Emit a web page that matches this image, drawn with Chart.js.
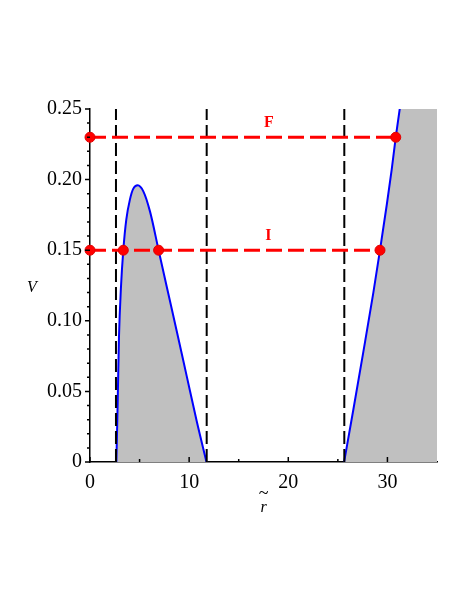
<!DOCTYPE html>
<html>
<head>
<meta charset="utf-8">
<script src="https://cdn.jsdelivr.net/npm/chart.js@4/dist/chart.umd.min.js"></script>
<style>
html,body{margin:0;padding:0;background:#fff;}
#wrap{width:472px;height:611px;position:relative;}
</style>
</head>
<body>
<div id="wrap"><canvas id="c" width="472" height="611"></canvas></div>
<script>
// ---- data ----
const xTicks = [0, 10, 20, 30];
const xMinorTicks = [5, 15, 25];
const yTicks = [0, 0.05, 0.10, 0.15, 0.20, 0.25];
const yTickLabels = ['0', '0.05', '0.10', '0.15', '0.20', '0.25'];
const yMinorTicks = [0.01,0.02,0.03,0.04,0.06,0.07,0.08,0.09,0.11,0.12,0.13,0.14,0.16,0.17,0.18,0.19,0.21,0.22,0.23,0.24];
const xMin = 0, xMax = 35, yMin = 0, yMax = 0.25;

// potential curve V(r~), left well
const leftR = [2.66, 2.79, 2.925, 3.127, 3.36, 3.66, 4.03, 4.37, 4.81, 5.38, 6.05, 6.92, 7.73, 8.74, 9.75, 10.76, 11.75];
const leftV = [0, 0.0416, 0.0889, 0.1243, 0.150, 0.1716, 0.186, 0.1936, 0.196, 0.1917, 0.1775, 0.150, 0.1245, 0.093, 0.061, 0.029, 0];
// right branch
const rightR = [25.63, 26.56, 27.57, 28.58, 29.25, 29.93, 30.43, 30.84, 31.24, 32.0, 35.0];
const rightV = [0, 0.037, 0.078, 0.120, 0.150, 0.182, 0.207, 0.230, 0.250, 0.290, 0.450];

// vertical dashed lines (turning radii)
const vLines = [2.62, 11.77, 25.65];

// horizontal energy levels
const levelF_R = [0, 30.84];
const levelF_V = 0.23;
const levelI_R = [0, 3.36, 6.92, 29.25];
const levelI_V = 0.15;

// text labels
const levelLabels = ['F', 'I'];
const levelLabelR = [18.05, 18.0];
const levelLabelV = [0.240, 0.160];
const xTitle = 'r';
const yTitle = 'V';

// ---- build datasets ----
const pts = (xs, ys) => xs.map((x, i) => ({x: x, y: Array.isArray(ys) ? ys[i] : ys}));
const datasets = [];

datasets.push({ data: pts(levelF_R, levelF_V), borderColor: '#ff0000', borderWidth: 3, borderDash: [16, 6],
  pointRadius: 5, pointBackgroundColor: '#ff0000', pointBorderColor: '#e00000', pointBorderWidth: 1,
  fill: false, clip: false, order: 1 });
datasets.push({ data: pts(levelI_R, levelI_V), borderColor: '#ff0000', borderWidth: 3, borderDash: [16, 6],
  pointRadius: 5, pointBackgroundColor: '#ff0000', pointBorderColor: '#e00000', pointBorderWidth: 1,
  fill: false, clip: false, order: 1 });

vLines.forEach(r => datasets.push({ data: pts([r, r], [yMin, yMax]), borderColor: '#000000', borderWidth: 2,
  borderDash: [13, 5], pointRadius: 0, fill: false, order: 2 }));

datasets.push({ data: pts(leftR, leftV), borderColor: '#0000ff', borderWidth: 2, backgroundColor: '#c0c0c0',
  fill: 'origin', pointRadius: 0, cubicInterpolationMode: 'monotone', order: 3 });
datasets.push({ data: pts(rightR, rightV), borderColor: '#0000ff', borderWidth: 2, backgroundColor: '#c0c0c0',
  fill: 'origin', pointRadius: 0, cubicInterpolationMode: 'monotone', order: 3 });

const SERIF = "'Liberation Serif', 'Times New Roman', serif";

const decor = {
  id: 'decor',
  afterDraw(chart) {
    const ctx = chart.ctx, xs = chart.scales.x, ys = chart.scales.y;
    const a = chart.chartArea;
    ctx.save();
    ctx.strokeStyle = '#000';
    ctx.lineWidth = 1.5;
    ctx.beginPath();
    yTicks.forEach(v => { const p = ys.getPixelForValue(v); ctx.moveTo(a.left - 5, p); ctx.lineTo(a.left, p); });
    yMinorTicks.forEach(v => { const p = ys.getPixelForValue(v); ctx.moveTo(a.left - 3, p); ctx.lineTo(a.left, p); });
    xTicks.forEach(v => { const p = xs.getPixelForValue(v); ctx.moveTo(p, a.bottom); ctx.lineTo(p, a.bottom - 5); });
    xMinorTicks.forEach(v => { const p = xs.getPixelForValue(v); ctx.moveTo(p, a.bottom); ctx.lineTo(p, a.bottom - 3); });
    ctx.stroke();

    // axis titles
    ctx.fillStyle = '#000';
    ctx.textAlign = 'center';
    ctx.textBaseline = 'middle';
    ctx.font = 'italic 16px ' + SERIF;
    ctx.fillText(yTitle, 32, (a.top + a.bottom) / 2 + 2);
    const cx = (a.left + a.right) / 2;
    ctx.fillText(xTitle, cx, a.bottom + 46);
    ctx.font = '18px ' + SERIF;
    ctx.fillText('~', cx, a.bottom + 32);

    // level labels
    ctx.fillStyle = '#ff0000';
    ctx.font = 'bold 16px ' + SERIF;
    levelLabels.forEach((t, i) => {
      ctx.fillText(t, xs.getPixelForValue(levelLabelR[i]), ys.getPixelForValue(levelLabelV[i]));
    });
    ctx.restore();
  }
};

new Chart(document.getElementById('c'), {
  type: 'line',
  data: { datasets: datasets },
  options: {
    responsive: false,
    animation: false,
    events: [],
    layout: { padding: { left: 0, top: 109, right: 35, bottom: 99 } },
    plugins: { legend: { display: false }, tooltip: { enabled: false } },
    scales: {
      x: {
        type: 'linear', min: xMin, max: xMax,
        afterFit: s => { s.height = 50; },
        afterBuildTicks: s => { s.ticks = xTicks.map(v => ({value: v})); },
        grid: { display: false, drawTicks: false },
        border: { display: true, color: '#000', width: 1.5 },
        ticks: { color: '#000', padding: 9, maxRotation: 0, font: { family: SERIF, size: 20 },
          callback: v => String(v) }
      },
      y: {
        type: 'linear', min: yMin, max: yMax,
        afterFit: s => { s.width = 90; },
        afterBuildTicks: s => { s.ticks = yTicks.map(v => ({value: v})); },
        grid: { display: false, drawTicks: false },
        border: { display: true, color: '#000', width: 1.5 },
        ticks: { color: '#000', padding: 8, font: { family: SERIF, size: 20 },
          callback: (v, i) => yTickLabels[yTicks.indexOf(v)] ?? '' }
      }
    }
  },
  plugins: [decor]
});
</script>
</body>
</html>
